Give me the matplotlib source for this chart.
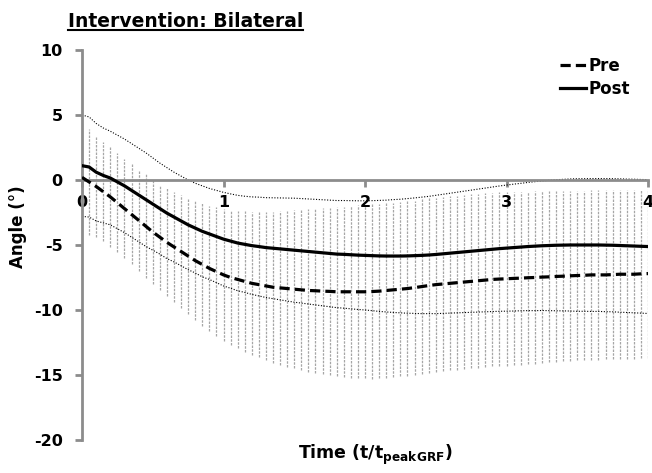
import matplotlib
matplotlib.use("Agg")
import matplotlib.pyplot as plt
from matplotlib.lines import Line2D
import numpy as np

plt.rcParams['font.family'] = ['DejaVu Sans']
plt.rcParams['font.weight'] = 'bold'
plt.rcParams['mathtext.fontset'] = 'custom'
plt.rcParams['mathtext.rm'] = 'DejaVu Sans:bold'
plt.rcParams['mathtext.bf'] = 'DejaVu Sans:bold'

# normalised time, 0 to 4 in steps of 0.05
time = np.round(np.arange(81) * 0.05, 2)

pre_mean = [0.2, -0.15, -0.5, -0.9, -1.3, -1.75, -2.2, -2.65, -3.1, -3.55,
            -4.0, -4.4, -4.8, -5.15, -5.5, -5.85, -6.2, -6.5, -6.8, -7.05,
            -7.3, -7.5, -7.65, -7.8, -7.95, -8.05, -8.15, -8.25, -8.3, -8.35,
            -8.4, -8.45, -8.5, -8.52, -8.55, -8.57, -8.6, -8.6, -8.6, -8.6,
            -8.6, -8.58, -8.55, -8.5, -8.45, -8.4, -8.35, -8.28, -8.2, -8.12,
            -8.05, -8.0, -7.95, -7.9, -7.85, -7.8, -7.75, -7.7, -7.65, -7.62,
            -7.6, -7.57, -7.55, -7.52, -7.5, -7.47, -7.45, -7.42, -7.4, -7.37,
            -7.35, -7.33, -7.3, -7.3, -7.3, -7.28, -7.25, -7.25, -7.25, -7.22,
            -7.2]
pre_sd = [4.1, 4.1, 3.85, 3.8, 3.85, 3.8, 3.8, 3.85, 3.9, 4.0,
          4.0, 4.05, 4.15, 4.25, 4.35, 4.45, 4.6, 4.7, 4.8, 4.95,
          5.05, 5.2, 5.3, 5.4, 5.5, 5.6, 5.7, 5.8, 5.9, 6.0,
          6.1, 6.15, 6.25, 6.35, 6.4, 6.45, 6.5, 6.55, 6.6, 6.65,
          6.65, 6.7, 6.7, 6.7, 6.7, 6.7, 6.7, 6.7, 6.7, 6.7,
          6.7, 6.7, 6.7, 6.7, 6.7, 6.7, 6.7, 6.7, 6.68, 6.68,
          6.68, 6.66, 6.65, 6.63, 6.62, 6.6, 6.58, 6.56, 6.55, 6.53,
          6.52, 6.52, 6.51, 6.51, 6.5, 6.5, 6.5, 6.49, 6.49, 6.48,
          6.48]

post_mean = [1.1, 1.0, 0.6, 0.35, 0.15, -0.15, -0.45, -0.8, -1.15, -1.5,
             -1.85, -2.2, -2.55, -2.85, -3.15, -3.45, -3.7, -3.95, -4.15, -4.35,
             -4.55, -4.7, -4.85, -4.95, -5.05, -5.12, -5.2, -5.25, -5.3, -5.35,
             -5.4, -5.45, -5.5, -5.55, -5.6, -5.65, -5.7, -5.72, -5.75, -5.78,
             -5.8, -5.82, -5.84, -5.85, -5.85, -5.85, -5.84, -5.82, -5.8, -5.77,
             -5.73, -5.68, -5.63, -5.58, -5.53, -5.48, -5.43, -5.38, -5.33, -5.28,
             -5.24, -5.2, -5.16, -5.12, -5.09, -5.06, -5.04, -5.02, -5.01, -5.0,
             -5.0, -5.0, -5.0, -5.0, -5.01, -5.02, -5.04, -5.06, -5.08, -5.1,
             -5.12]
post_sd = [3.9, 3.85, 3.75, 3.65, 3.6, 3.6, 3.6, 3.6, 3.6, 3.6,
           3.55, 3.5, 3.5, 3.45, 3.45, 3.45, 3.45, 3.5, 3.5, 3.55,
           3.6, 3.63, 3.67, 3.7, 3.75, 3.8, 3.84, 3.88, 3.92, 3.96,
           4.0, 4.02, 4.04, 4.06, 4.08, 4.1, 4.12, 4.14, 4.16, 4.18,
           4.2, 4.23, 4.27, 4.3, 4.34, 4.37, 4.41, 4.44, 4.48, 4.51,
           4.55, 4.58, 4.61, 4.64, 4.67, 4.7, 4.73, 4.76, 4.79, 4.82,
           4.85, 4.88, 4.9, 4.93, 4.96, 4.98, 5.01, 5.04, 5.06, 5.08,
           5.1, 5.1, 5.11, 5.11, 5.12, 5.12, 5.13, 5.13, 5.14, 5.14,
           5.15]

pre_mean = np.array(pre_mean)
pre_sd = np.array(pre_sd)
post_mean = np.array(post_mean)
post_sd = np.array(post_sd)

fig = plt.figure(figsize=(6.52, 4.73), dpi=100)
ax = fig.add_axes([0.1258, 0.0698, 0.8681, 0.8245])

# Pre SD as thin grey dotted bars
ax.vlines(time, pre_mean - pre_sd, pre_mean + pre_sd, colors='#a6a6a6',
          linestyles=(0, (2, 1)), linewidth=0.9, zorder=1)

# Post SD as fine dotted envelopes
ax.plot(time, post_mean + post_sd, color='black', linestyle=(0, (1, 1.5)), linewidth=0.8, zorder=2)
ax.plot(time, post_mean - post_sd, color='black', linestyle=(0, (1, 1.5)), linewidth=0.8, zorder=2)

ax.plot(time, pre_mean, color='black', linestyle=(0, (3.2, 1.6)), linewidth=2.3, label='Pre', zorder=4)
ax.plot(time, post_mean, color='black', linestyle='-', linewidth=2.3, label='Post', zorder=4)

ax.set_xlim(0, 4)
ax.set_ylim(-20, 10)
ax.set_xticks([0, 1, 2, 3, 4])
ax.set_yticks([-20, -15, -10, -5, 0, 5, 10])
ax.set_yticklabels(['-20', '-15', '-10', '-5', '0', '5', '10'])

axis_grey = '#8c8c8c'
ax.spines['top'].set_visible(False)
ax.spines['right'].set_visible(False)
ax.spines['bottom'].set_position(('data', 0))
ax.spines['bottom'].set_color(axis_grey)
ax.spines['left'].set_color(axis_grey)
ax.spines['bottom'].set_linewidth(2)
ax.spines['left'].set_linewidth(2)
ax.spines['bottom'].set_zorder(3)
ax.spines['left'].set_zorder(3)

ax.tick_params(axis='y', direction='out', length=5, width=2, color=axis_grey,
               labelsize=11.5, pad=9)
ax.tick_params(axis='x', direction='out', length=5, width=2, color=axis_grey,
               labelsize=11.5, pad=6)
for lbl in ax.get_xticklabels() + ax.get_yticklabels():
    lbl.set_fontweight('bold')

leg = ax.legend(loc='upper right', bbox_to_anchor=(0.985, 1.008), frameon=False,
                fontsize=12, handlelength=1.6, handletextpad=0.1,
                labelspacing=0.3, borderaxespad=0.2)

fig.text(0.027, 0.52, 'Angle (°)', rotation=90, ha='center', va='center',
         fontsize=12, fontweight='bold')
fig.text(0.575, 0.038, r'Time (t/t$_{\mathrm{peakGRF}}$)', ha='center', va='center',
         fontsize=12.5, fontweight='bold')

title = fig.text(0.104, 0.955, 'Intervention: Bilateral', ha='left', va='center',
                 fontsize=13.5, fontweight='bold')

# underline the heading
fig.canvas.draw()
bb = title.get_window_extent().transformed(fig.transFigure.inverted())
fig.add_artist(Line2D([bb.x0, bb.x1], [bb.y0 + 0.002, bb.y0 + 0.002],
                      transform=fig.transFigure, color='black', linewidth=1.5))

fig.savefig('out.png', dpi=100)
